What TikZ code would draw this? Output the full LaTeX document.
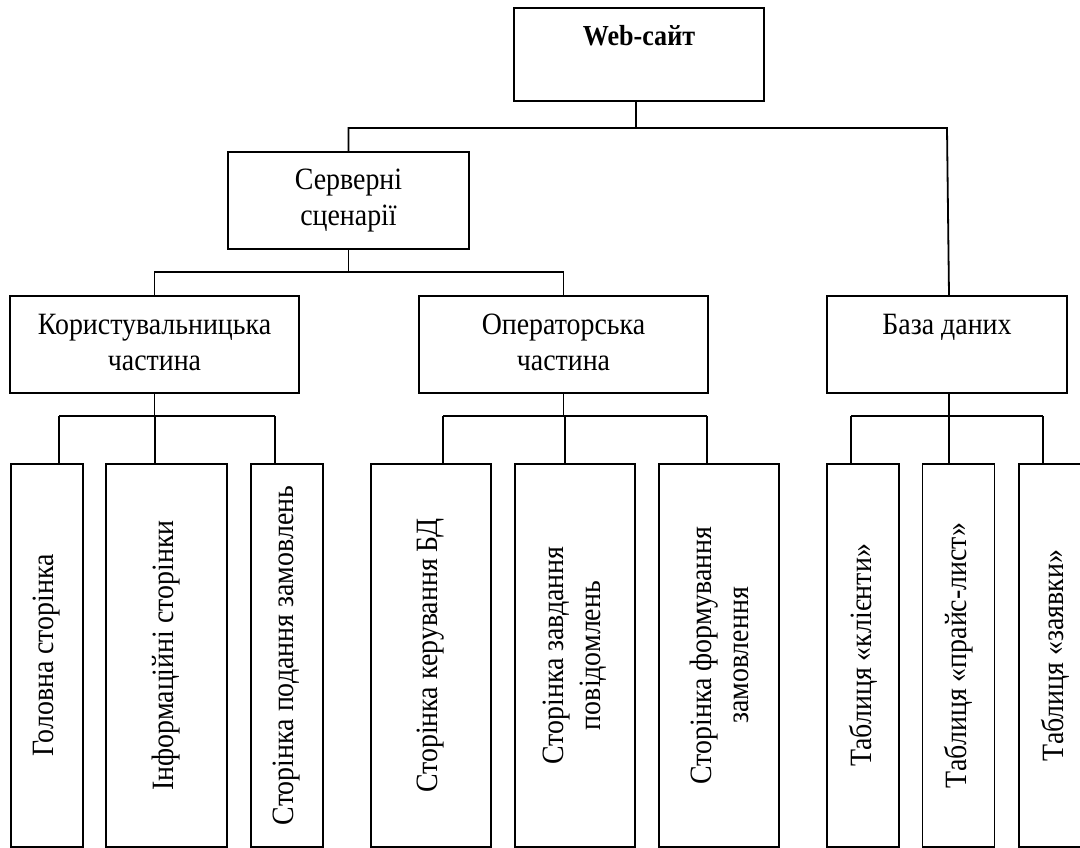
\documentclass[tikz,border=0pt]{standalone}
\usepackage{fontspec}
\setmainfont[FakeStretch=0.9]{Liberation Serif}
\newcommand{\topbox}[3]{\parbox[c][#2][t]{#1}{\centering\rule{0pt}{38pt}#3}}
\tikzset{
  hbox/.style={draw, line width=1.8pt, inner sep=0pt, font=\fontsize{31}{36}\selectfont},
  vbox/.style={draw, line width=1.8pt, inner sep=0pt, rotate=90, align=center,
    minimum width=383pt, font=\fontsize{31}{37}\selectfont},
  conn/.style={line width=1.8pt}
}
\begin{document}
\begin{tikzpicture}[x=1pt,y=1pt]
\useasboundingbox (0,0) rectangle (1080,-848);
\clip (0,0) rectangle (1080,-848);
% top-level boxes
\node[hbox] (web) at (639,-54.5) {\topbox{250pt}{93pt}{\fontsize{29}{36}\selectfont\bfseries Web-сайт}};
\node[hbox] (serv) at (348.5,-200.5) {\topbox{241pt}{97pt}{Серверні\\сценарії}};
\node[hbox] (user) at (154.5,-344.5) {\topbox{289pt}{97pt}{Користувальницька\\частина}};
\node[hbox] (oper) at (563.5,-344.5) {\topbox{289pt}{97pt}{Операторська\\частина}};
\node[hbox] (db) at (947,-344.5) {\topbox{240pt}{97pt}{База даних}};
% leaf boxes
\node[vbox, minimum height=72pt] (g1) at (47,-655.5) {Головна сторінка};
\node[vbox, minimum height=121pt] (g2) at (166.5,-655.5) {Інформаційні сторінки};
\node[vbox, minimum height=72pt] (g3) at (287,-655.5) {Сторінка подання замовлень};
\node[vbox, minimum height=120pt] (o1) at (431,-655.5) {Сторінка керування БД};
\node[vbox, minimum height=120pt] (o2) at (575,-655.5) {Сторінка завдання\\повідомлень};
\node[vbox, minimum height=120pt] (o3) at (719,-655.5) {Сторінка формування\\замовлення};
\node[vbox, minimum height=72pt] (d1) at (863,-655.5) {Таблиця «клієнти»};
\node[vbox, minimum height=72pt] (d2) at (958.5,-655.5) {Таблиця «прайс-лист»};
\node[vbox, minimum height=72pt] (d3) at (1055,-655.5) {Таблиця «заявки»};
% bus coordinates
\coordinate (busA) at (0,-128);
\coordinate (busB) at (0,-272);
\coordinate (busC) at (0,-416);
\coordinate (cg1) at (59,-416);
\coordinate (cg2) at (155,-416);
\coordinate (cg3) at (275,-416);
\coordinate (co1) at (443,-416);
\coordinate (co2) at (565,-416);
\coordinate (co3) at (707,-416);
\coordinate (cd1) at (851,-416);
\coordinate (cd2) at (949,-416);
\coordinate (cd3) at (1043,-416);
% level 1
\draw[conn] (web.south -| 636,0) -- (636,-128);
\draw[conn] (serv.north) |- (db.north |- busA) -- (db.north -| 949,0);
% level 2
\draw[conn] (serv.south) -- (serv.south |- busB);
\draw[conn] (user.north) |- (oper.north |- busB) -- (oper.north);
% level 3
\draw[conn] (user.south) -- (user.south |- busC);
\draw[conn] (oper.south) -- (oper.south |- busC);
\draw[conn] (db.south -| cd2) -- (cd2);
\draw[conn] (cg1) -- (cg3);
\draw[conn] (co1) -- (co3);
\draw[conn] (cd1) -- (cd3);
\draw[conn] (cg1) -- (cg1 |- g1.east);
\draw[conn] (cg2) -- (cg2 |- g2.east);
\draw[conn] (cg3) -- (cg3 |- g3.east);
\draw[conn] (co1) -- (co1 |- o1.east);
\draw[conn] (co2) -- (co2 |- o2.east);
\draw[conn] (co3) -- (co3 |- o3.east);
\draw[conn] (cd1) -- (cd1 |- d1.east);
\draw[conn] (cd2) -- (cd2 |- d2.east);
\draw[conn] (cd3) -- (cd3 |- d3.east);
\end{tikzpicture}
\end{document}
